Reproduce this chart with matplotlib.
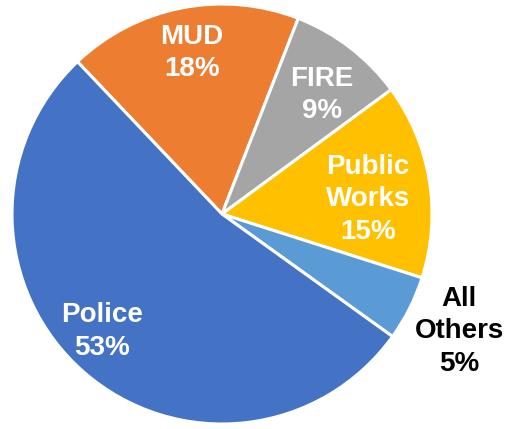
import numpy as np
import matplotlib.pyplot as plt

labels = ['MUD', 'FIRE', 'Public\nWorks', 'All\nOthers', 'Police']
shares = [18, 9, 15, 5, 53]
colors = ['#ED7D31', '#A5A5A5', '#FFC000', '#5B9BD5', '#4472C4']
text_colors = ['white', 'white', 'white', 'black', 'white']
label_dist = [0.78, 0.74, 0.70, 1.26, 0.80]
label_turn = [-0.5, -2.5, -3.5, 0.4, -4.6]

plt.rcParams['font.family'] = ['Liberation Sans', 'DejaVu Sans']

fig = plt.figure(figsize=(5.09, 4.29), dpi=100)
ax = fig.add_axes([0, 0, 1, 1])

center = (222, 215)
radius = 210
wedges, _ = ax.pie(shares, colors=colors, startangle=133.5, counterclock=False,
                   center=center, radius=radius,
                   wedgeprops=dict(edgecolor='white', linewidth=2.2))
ax.set_xlim(0, 509)
ax.set_ylim(0, 429)
ax.set_aspect('equal')
ax.axis('off')

for w, lab, s, tc, d, t in zip(wedges, labels, shares, text_colors, label_dist, label_turn):
    mid = np.deg2rad((w.theta1 + w.theta2) / 2 + t)
    x = center[0] + d * radius * np.cos(mid)
    y = center[1] + d * radius * np.sin(mid)
    ax.text(x, y, f"{lab}\n{s}%", color=tc, ha='center', va='center',
            fontsize=20, fontweight='bold', linespacing=1.32)

plt.savefig('out.png', dpi=100)
